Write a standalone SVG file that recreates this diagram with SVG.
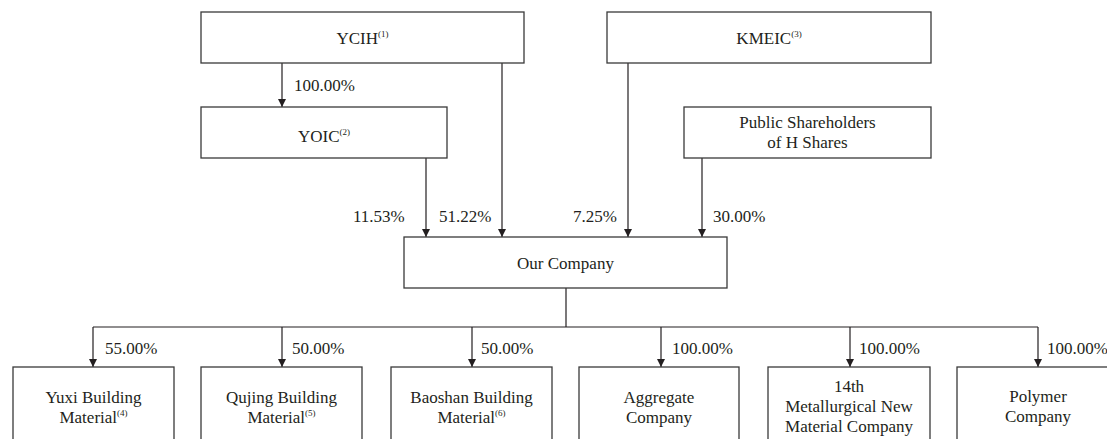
<svg xmlns="http://www.w3.org/2000/svg" width="1107" height="439" viewBox="0 0 1107 439">
<style>
  .box { fill: #ffffff; stroke: #3a3a3a; stroke-width: 1.3; }
  .ln { fill: none; stroke: #231f20; stroke-width: 1.2; }
  text { font-family: "Liberation Serif", "Times New Roman", serif; font-size: 17px; fill: #231f20; }
  .c { text-anchor: middle; }
  .sup { font-size: 9px; }
</style>
<defs>
  <marker id="arr" markerUnits="userSpaceOnUse" markerWidth="10" markerHeight="9" refX="5" refY="8" orient="auto-start-reverse" viewBox="0 0 10 9">
    <path d="M1,0 L9,0 L5,8 Z" fill="#231f20" transform="rotate(-90 5 4.5)"/>
  </marker>
  <marker id="ah" markerUnits="userSpaceOnUse" markerWidth="10" markerHeight="9" refX="8" refY="4.5" orient="auto" viewBox="0 0 10 9">
    <path d="M0,0.5 L8,4.5 L0,8.5 Z" fill="#231f20"/>
  </marker>
</defs>
<rect width="1107" height="439" fill="#ffffff"/>

<g id="connectors">
  <line class="ln" x1="282" y1="63" x2="282" y2="107" marker-end="url(#ah)"/>
  <line class="ln" x1="426" y1="158" x2="426" y2="237" marker-end="url(#ah)"/>
  <line class="ln" x1="502" y1="63" x2="502" y2="237" marker-end="url(#ah)"/>
  <line class="ln" x1="628" y1="63" x2="628" y2="237" marker-end="url(#ah)"/>
  <line class="ln" x1="702" y1="158" x2="702" y2="237" marker-end="url(#ah)"/>
  <line class="ln" x1="566" y1="288" x2="566" y2="327"/>
  <line class="ln" x1="93" y1="327" x2="1038" y2="327"/>
  <line class="ln" x1="93" y1="327" x2="93" y2="367" marker-end="url(#ah)"/>
  <line class="ln" x1="282" y1="327" x2="282" y2="367" marker-end="url(#ah)"/>
  <line class="ln" x1="472" y1="327" x2="472" y2="367" marker-end="url(#ah)"/>
  <line class="ln" x1="661" y1="327" x2="661" y2="367" marker-end="url(#ah)"/>
  <line class="ln" x1="850" y1="327" x2="850" y2="367" marker-end="url(#ah)"/>
  <line class="ln" x1="1038" y1="327" x2="1038" y2="367" marker-end="url(#ah)"/>
  <text x="294" y="91">100.00%</text>
  <text x="353" y="222">11.53%</text>
  <text x="439" y="222">51.22%</text>
  <text x="573" y="222">7.25%</text>
  <text x="713" y="222">30.00%</text>
  <text x="105" y="354">55.00%</text>
  <text x="292" y="354">50.00%</text>
  <text x="481" y="354">50.00%</text>
  <text x="672" y="354">100.00%</text>
  <text x="859" y="354">100.00%</text>
  <text x="1047" y="354">100.00%</text>
</g>

<g id="ycih">
  <rect class="box" x="201" y="12" width="323" height="51"/>
  <text class="c" x="362.5" y="44">YCIH<tspan class="sup" dy="-7">(1)</tspan></text>
</g>
<g id="yoic">
  <rect class="box" x="201" y="107" width="246" height="51"/>
  <text class="c" x="324" y="142">YOIC<tspan class="sup" dy="-7">(2)</tspan></text>
</g>
<g id="kmeic">
  <rect class="box" x="607" y="12" width="324" height="51"/>
  <text class="c" x="769" y="44">KMEIC<tspan class="sup" dy="-7">(3)</tspan></text>
</g>
<g id="public">
  <rect class="box" x="684" y="107" width="247" height="51"/>
  <text class="c" x="807.5" y="128">Public Shareholders</text>
  <text class="c" x="807.5" y="148">of H Shares</text>
</g>
<g id="our-company">
  <rect class="box" x="404" y="237" width="323" height="51"/>
  <text class="c" x="565.5" y="269">Our Company</text>
</g>
<g id="yuxi">
  <rect class="box" x="13" y="367" width="161" height="80"/>
  <text class="c" x="93.5" y="403">Yuxi Building</text>
  <text class="c" x="93.5" y="423">Material<tspan class="sup" dy="-7">(4)</tspan></text>
</g>
<g id="qujing">
  <rect class="box" x="201" y="367" width="161" height="80"/>
  <text class="c" x="281.5" y="403">Qujing Building</text>
  <text class="c" x="281.5" y="423">Material<tspan class="sup" dy="-7">(5)</tspan></text>
</g>
<g id="baoshan">
  <rect class="box" x="391" y="367" width="161" height="80"/>
  <text class="c" x="471.5" y="403">Baoshan Building</text>
  <text class="c" x="471.5" y="423">Material<tspan class="sup" dy="-7">(6)</tspan></text>
</g>
<g id="aggregate">
  <rect class="box" x="579" y="367" width="160" height="80"/>
  <text class="c" x="659" y="403">Aggregate</text>
  <text class="c" x="659" y="423">Company</text>
</g>
<g id="metallurgical">
  <rect class="box" x="768" y="367" width="162" height="80"/>
  <text class="c" x="849" y="392">14th</text>
  <text class="c" x="849" y="412">Metallurgical New</text>
  <text class="c" x="849" y="432">Material Company</text>
</g>
<g id="polymer">
  <rect class="box" x="957" y="367" width="162" height="80"/>
  <text class="c" x="1038" y="402">Polymer</text>
  <text class="c" x="1038" y="422">Company</text>
</g>
</svg>
